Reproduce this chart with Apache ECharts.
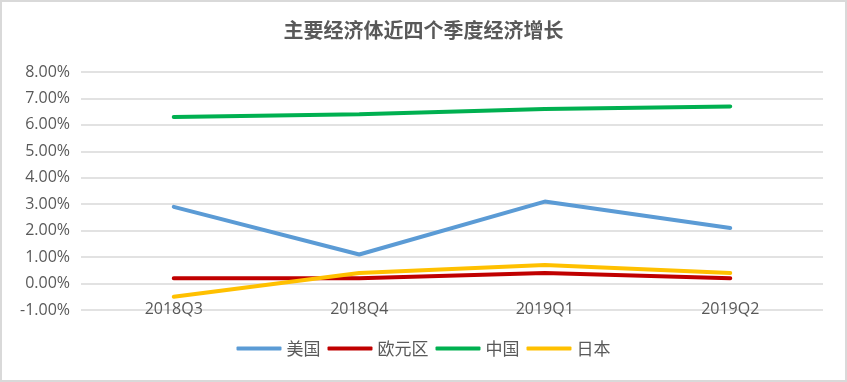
<!DOCTYPE html>
<html><head><meta charset="utf-8">
<script src="https://cdn.jsdelivr.net/npm/echarts@6/dist/echarts.min.js"></script>
<style>html,body{margin:0;padding:0;background:#fff}#c{width:847px;height:382px;box-sizing:border-box;border:2px solid #d9d9d9}</style>
</head><body><div id="c"></div>
<script>
var categories = ['2018Q3','2018Q4','2019Q1','2019Q2'];
var usa = [2.9, 1.1, 3.1, 2.1];
var euro = [0.2, 0.2, 0.4, 0.2];
var china = [6.3, 6.4, 6.6, 6.7];
var japan = [-0.5, 0.4, 0.7, 0.4];
var seriesNames = ['美国','欧元区','中国','日本'];
var colors = ['#5B9BD5','#C00000','#00B050','#FFC000'];
var dataSets = [usa, euro, china, japan];

var chart = echarts.init(document.getElementById('c'));
var font = '"Open Sans", "Noto Sans CJK SC", sans-serif';
chart.setOption({
  animation: false,
  title: {text: '主要经济体近四个季度经济增长', left: 'center', top: 13,
    textStyle: {fontSize: 20, fontWeight: 'bold', color: '#595959', fontFamily: '"Noto Sans CJK SC", sans-serif'}},
  legend: {bottom: 18, left: 'center', itemWidth: 45, itemHeight: 4, itemGap: 7, icon: 'roundRect',
    textStyle: {fontSize: 17, color: '#595959', fontFamily: '"Noto Sans CJK SC", sans-serif'},
    data: seriesNames},
  grid: {left: 79, right: 22, top: 70, bottom: 70},
  xAxis: {type: 'category', data: categories, boundaryGap: true,
    axisLine: {show: false, onZero: false},
    axisTick: {show: false},
    axisLabel: {fontSize: 16, color: '#595959', margin: -9, fontFamily: font}},
  yAxis: {type: 'value', min: -1, max: 8, interval: 1,
    axisLine: {show: false}, axisTick: {show: false},
    splitLine: {lineStyle: {color: '#d9d9d9', width: 1.5}},
    axisLabel: {fontSize: 16, color: '#595959', margin: 11, fontFamily: font,
      formatter: function(v){return v.toFixed(2) + '%';}}},
  series: dataSets.map(function(d, i){
    return {name: seriesNames[i], type: 'line', data: d, symbol: 'none',
      lineStyle: {width: 4, color: colors[i], cap: 'round'}, itemStyle: {color: colors[i]}};
  })
});
</script></body></html>
